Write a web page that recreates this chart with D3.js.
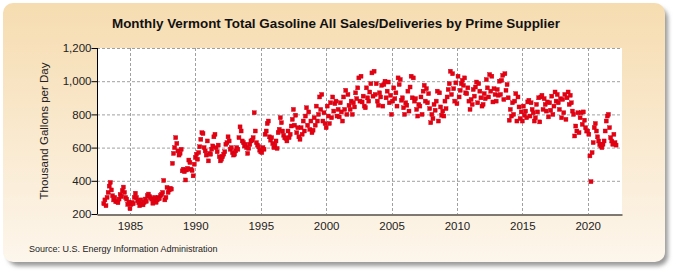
<!DOCTYPE html>
<html>
<head>
<meta charset="utf-8">
<script src="https://cdn.jsdelivr.net/npm/d3@7"></script>
<style>
  body { margin: 0; background: #fff; }
  text { font-family: "Liberation Sans", Arial, sans-serif; }
</style>
</head>
<body>
<svg id="chart" width="675" height="275"></svg>
<script>
// monthly values, thousand gallons per day, Jan..Dec, starting 1983
var startYear = 1983;
var monthly = [
  [262, 285, 250, 300, 330, 368, 390, 345, 310, 285, 300, 275],
  [275, 268, 290, 318, 305, 340, 362, 330, 300, 290, 258, 272],
  [232, 258, 270, 262, 300, 325, 300, 280, 268, 250, 285, 260],
  [255, 270, 290, 276, 310, 320, 305, 298, 290, 265, 280, 300],
  [270, 285, 300, 292, 310, 318, 330, 402, 285, 300, 360, 330],
  [345, 355, 350, 505, 565, 600, 660, 625, 580, 555, 565, 590],
  [460, 470, 455, 405, 465, 475, 525, 510, 470, 462, 430, 500],
  [540, 560, 530, 570, 605, 650, 690, 685, 600, 580, 555, 640],
  [520, 565, 560, 590, 610, 665, 680, 600, 575, 615, 545, 520],
  [530, 545, 560, 575, 620, 630, 665, 640, 590, 600, 570, 555],
  [560, 580, 600, 590, 660, 725, 700, 640, 630, 610, 620, 600],
  [565, 595, 620, 640, 645, 660, 810, 700, 630, 615, 605, 585],
  [575, 570, 600, 590, 680, 700, 745, 760, 665, 645, 660, 625],
  [600, 615, 640, 595, 690, 710, 780, 750, 700, 675, 660, 655],
  [640, 700, 660, 680, 730, 770, 830, 735, 795, 690, 720, 665],
  [650, 720, 680, 760, 700, 790, 840, 735, 815, 710, 760, 690],
  [705, 780, 735, 850, 760, 800, 905, 830, 920, 760, 810, 745],
  [720, 850, 790, 745, 870, 780, 905, 820, 865, 880, 790, 830],
  [785, 870, 815, 760, 905, 830, 945, 800, 920, 855, 830, 880],
  [800, 870, 845, 930, 895, 960, 1020, 880, 1030, 875, 910, 850],
  [840, 960, 900, 880, 935, 985, 1050, 910, 1060, 920, 985, 880],
  [855, 930, 905, 975, 850, 980, 1000, 900, 940, 995, 870, 915],
  [800, 880, 960, 895, 930, 850, 1020, 980, 1010, 885, 900, 840],
  [800, 870, 855, 940, 820, 965, 1030, 900, 1020, 880, 895, 830],
  [790, 860, 850, 905, 800, 940, 975, 880, 955, 870, 925, 835],
  [750, 800, 775, 860, 825, 880, 940, 760, 930, 845, 795, 820],
  [790, 880, 835, 905, 950, 985, 1060, 920, 1045, 955, 880, 990],
  [865, 1030, 905, 945, 985, 1005, 975, 1020, 930, 925, 960, 880],
  [830, 890, 860, 950, 910, 965, 995, 870, 985, 940, 900, 850],
  [860, 925, 895, 1010, 960, 905, 1040, 940, 1030, 875, 955, 920],
  [880, 950, 915, 1000, 920, 1005, 1035, 890, 1045, 945, 980, 900],
  [765, 830, 790, 870, 800, 880, 925, 760, 905, 845, 775, 815],
  [760, 850, 795, 820, 780, 875, 885, 790, 870, 830, 810, 760],
  [780, 860, 815, 900, 755, 905, 915, 830, 895, 860, 820, 875],
  [785, 870, 825, 910, 800, 850, 935, 880, 920, 870, 830, 895],
  [780, 890, 810, 920, 770, 900, 935, 860, 915, 870, 820, 800],
  [670, 730, 700, 810, 690, 780, 810, 740, 815, 765, 720, 700],
  [700, 680, 550, 395, 570, 630, 720, 745, 700, 665, 640, 620],
  [610, 600, 620, 640, 700, 760, 790, 800, 720, 660, 640, 620],
  [680, 630, 615]
];
var yTicks = [200, 400, 600, 800, 1000, 1200];
var xTicks = [1985, 1990, 1995, 2000, 2005, 2010, 2015, 2020];
var title = 'Monthly Vermont Total Gasoline All Sales/Deliveries by Prime Supplier';
var yLabel = 'Thousand Gallons per Day';
var source = 'Source: U.S. Energy Information Administration';

var points = [];
monthly.forEach(function (row, i) {
  row.forEach(function (v, m) {
    points.push({ t: startYear + i + m / 12, v: v });
  });
});

var svg = d3.select('#chart');
var defs = svg.append('defs');

var grad = defs.append('linearGradient')
  .attr('id', 'bg').attr('x1', 0).attr('y1', 0).attr('x2', 0).attr('y2', 1);
grad.append('stop').attr('offset', '0%').attr('stop-color', '#f6dcb0');
grad.append('stop').attr('offset', '100%').attr('stop-color', '#fdf6ec');

var blur = defs.append('filter').attr('id', 'shadow')
  .attr('x', '-5%').attr('y', '-5%').attr('width', '115%').attr('height', '120%');
blur.append('feGaussianBlur').attr('stdDeviation', 2);

// panel
svg.append('rect')
  .attr('x', 8).attr('y', 8).attr('width', 660).attr('height', 258)
  .attr('rx', 10).attr('fill', '#9a9a9a').attr('filter', 'url(#shadow)');
svg.append('rect')
  .attr('x', 3).attr('y', 3).attr('width', 662).attr('height', 259)
  .attr('rx', 10).attr('fill', 'url(#bg)');

var margin = { left: 97, right: 622, top: 48, bottom: 214 };

var x = d3.scaleLinear().domain([1982.48, 2022.62]).range([margin.left, margin.right]);
var y = d3.scaleLinear().domain([200, 1200]).range([margin.bottom, margin.top]);

svg.append('rect')
  .attr('x', margin.left).attr('y', margin.top)
  .attr('width', margin.right - margin.left).attr('height', margin.bottom - margin.top)
  .attr('fill', '#fff');

// grid
svg.append('g').selectAll('line.h')
  .data(yTicks.filter(function (d) { return d > 200; }))
  .enter().append('line')
  .attr('x1', margin.left).attr('x2', margin.right)
  .attr('y1', function (d) { return y(d) + 0.5; })
  .attr('y2', function (d) { return y(d) + 0.5; })
  .attr('stroke', '#a0a0a0').attr('stroke-dasharray', '3,2');

svg.append('g').selectAll('line.v')
  .data(xTicks)
  .enter().append('line')
  .attr('x1', function (d) { return Math.round(x(d)) + 0.5; })
  .attr('x2', function (d) { return Math.round(x(d)) + 0.5; })
  .attr('y1', margin.top).attr('y2', margin.bottom)
  .attr('stroke', '#a0a0a0').attr('stroke-dasharray', '3,2');

// points
svg.append('g').selectAll('rect.pt')
  .data(points)
  .enter().append('rect')
  .attr('x', function (d) { return x(d.t) - 2; })
  .attr('y', function (d) { return y(d.v) - 2; })
  .attr('width', 4).attr('height', 4)
  .attr('fill', '#e8000e')
  .attr('stroke', '#c8001a').attr('stroke-width', 0.4);

// axes
var yAxis = d3.axisLeft(y).tickValues(yTicks).tickSize(6).tickFormat(d3.format(','));
var gy = svg.append('g').attr('transform', 'translate(' + (margin.left + 0.5) + ',0)').call(yAxis);
gy.select('.domain').attr('stroke', '#000');
gy.selectAll('.tick line').attr('stroke', '#000');
gy.selectAll('.tick text').attr('font-size', 11.5).attr('fill', '#222').attr('x', -6);

var xAxis = d3.axisBottom(x).tickValues(xTicks).tickSize(0).tickFormat(d3.format('d'));
var gx = svg.append('g').attr('transform', 'translate(0,' + (margin.bottom + 0.5) + ')').call(xAxis);
gx.select('.domain').attr('stroke', '#000');
gx.selectAll('.tick text').attr('font-size', 11.5).attr('fill', '#222').attr('dy', '1.05em');
gy.select('.domain').attr('d', 'M0,' + margin.top + 'V' + margin.bottom);

svg.append('text')
  .attr('x', 336).attr('y', 28)
  .attr('text-anchor', 'middle')
  .attr('font-size', 12.5).attr('font-weight', 'bold').attr('fill', '#111')
  .attr('textLength', 448).attr('lengthAdjust', 'spacingAndGlyphs')
  .text(title);

svg.append('text')
  .attr('transform', 'translate(48,' + ((margin.top + margin.bottom) / 2) + ') rotate(-90)')
  .attr('text-anchor', 'middle')
  .attr('font-size', 11.5).attr('fill', '#222')
  .text(yLabel);

svg.append('text')
  .attr('x', 29).attr('y', 252)
  .attr('font-size', 9).attr('fill', '#222')
  .text(source);
</script>
</body>
</html>
